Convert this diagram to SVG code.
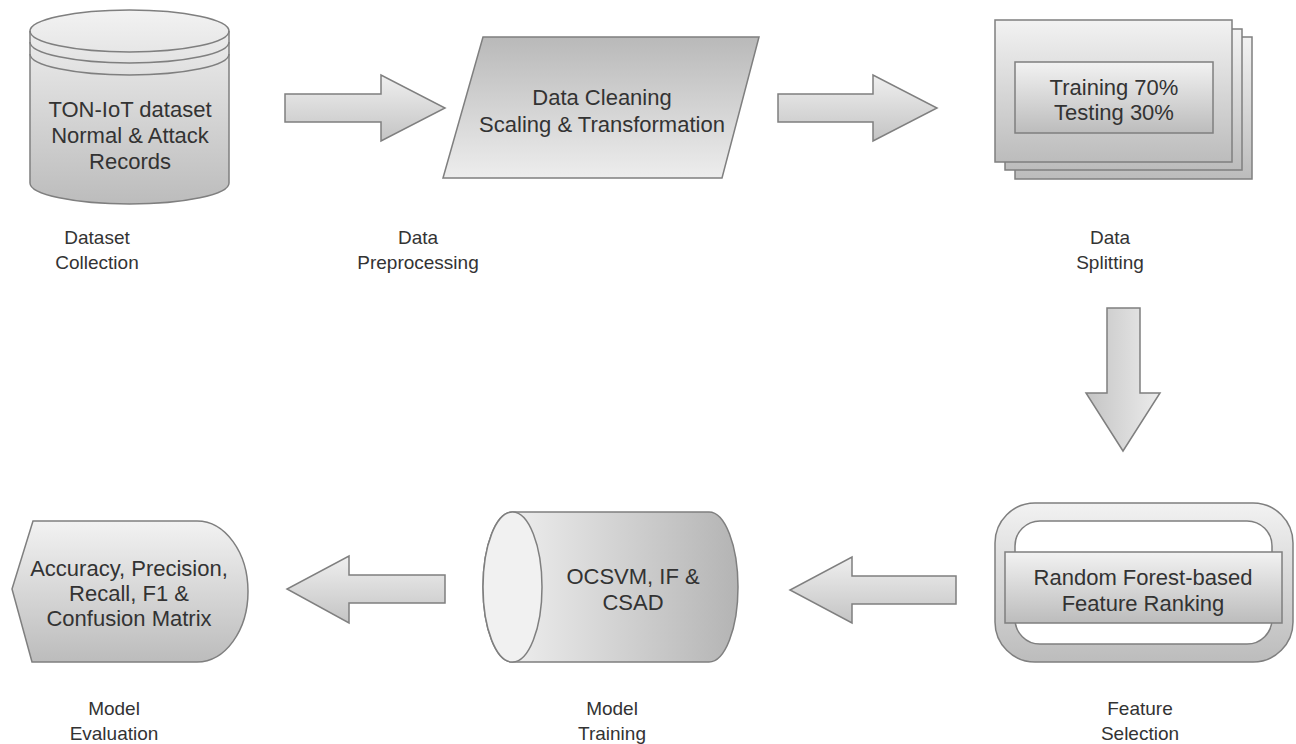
<svg xmlns="http://www.w3.org/2000/svg" width="1296" height="744" viewBox="0 0 1296 744">
<defs>
<linearGradient id="gv" x1="0" y1="0" x2="0" y2="1"><stop offset="0" stop-color="#f2f2f2"/><stop offset="1" stop-color="#bcbcbc"/></linearGradient>
<linearGradient id="gvr" x1="0" y1="0" x2="0" y2="1"><stop offset="0" stop-color="#b9b9b9"/><stop offset="1" stop-color="#ededed"/></linearGradient>
<linearGradient id="gh" x1="0" y1="0" x2="1" y2="0"><stop offset="0" stop-color="#f4f4f4"/><stop offset="1" stop-color="#b4b4b4"/></linearGradient>
<linearGradient id="ga" x1="0" y1="0" x2="0" y2="1"><stop offset="0" stop-color="#efefef"/><stop offset="1" stop-color="#c4c4c4"/></linearGradient>
<linearGradient id="gd" x1="0" y1="0" x2="1" y2="0"><stop offset="0" stop-color="#c4c4c4"/><stop offset="1" stop-color="#ececec"/></linearGradient>
</defs>
<style>
.s{stroke:#7f7f7f;stroke-width:1.5;}
.t{font-family:"Liberation Sans",Arial,sans-serif;font-size:22px;fill:#333;text-anchor:middle;}
.l{font-family:"Liberation Sans",Arial,sans-serif;font-size:19px;fill:#333;text-anchor:middle;}
</style>
<rect width="1296" height="744" fill="#fff"/>
<g id="connectors">
<polygon class="s" fill="url(#ga)" points="285,94 381,94 381,75 445,108 381,141 381,122 285,122"/>
<polygon class="s" fill="url(#ga)" points="778,94 873,94 873,75 937,108 873,141 873,122 778,122"/>
<polygon class="s" fill="url(#gd)" points="1107,308 1140,308 1140,393 1160,393 1123,451 1086,393 1107,393"/>
<polygon class="s" fill="url(#ga)" points="956,576 852,576 852,557 790,590 852,623 852,604 956,604"/>
<polygon class="s" fill="url(#ga)" points="445,575 349,575 349,556 287,589 349,623 349,603 445,603"/>
</g>
<g id="dataset">
<path class="s" fill="url(#gv)" d="M30,31 A99.5,21 0 0,1 229,31 L229,183 A99.5,21 0 0,1 30,183 Z"/>
<path class="s" fill="none" d="M30,31 A99.5,21 0 0,0 229,31 M30,42 A99.5,21 0 0,0 229,42 M30,54 A99.5,21 0 0,0 229,54"/>
<text class="t" x="130" y="117">TON-IoT dataset</text>
<text class="t" x="130" y="143">Normal &amp; Attack</text>
<text class="t" x="130" y="169">Records</text>
<text class="l" x="97" y="244">Dataset</text>
<text class="l" x="97" y="269">Collection</text>
</g>
<g id="preprocessing">
<polygon class="s" fill="url(#gvr)" points="483,37 759,37 722,178 443,178"/>
<text class="t" x="602" y="105">Data Cleaning</text>
<text class="t" x="602" y="132">Scaling &amp; Transformation</text>
<text class="l" x="418" y="244">Data</text>
<text class="l" x="418" y="269">Preprocessing</text>
</g>
<g id="splitting">
<rect class="s" fill="url(#gv)" x="1015" y="37" width="237" height="142"/>
<rect class="s" fill="url(#gv)" x="1005" y="29" width="237" height="141"/>
<rect class="s" fill="url(#gv)" x="995" y="20" width="237" height="142"/>
<rect class="s" fill="url(#gv)" x="1015" y="62" width="198" height="71"/>
<text class="t" x="1114" y="95">Training 70%</text>
<text class="t" x="1114" y="120">Testing 30%</text>
<text class="l" x="1110" y="244">Data</text>
<text class="l" x="1110" y="269">Splitting</text>
</g>
<g id="feature">
<rect class="s" fill="url(#gv)" x="995" y="503" width="298" height="159" rx="40"/>
<rect class="s" fill="#fff" x="1015" y="521" width="257" height="123" rx="25"/>
<rect class="s" fill="url(#gv)" x="1005" y="552" width="277" height="71"/>
<text class="t" x="1143" y="585">Random Forest-based</text>
<text class="t" x="1143" y="611">Feature Ranking</text>
<text class="l" x="1140" y="715">Feature</text>
<text class="l" x="1140" y="740">Selection</text>
</g>
<g id="training">
<path class="s" fill="url(#gh)" d="M512,512 L709,512 A29,75 0 0,1 709,662 L512,662 A29,75 0 0,1 512,512 Z"/>
<ellipse class="s" fill="#f1f1f1" cx="512.5" cy="587" rx="29.5" ry="75"/>
<text class="t" x="633" y="584">OCSVM, IF &amp;</text>
<text class="t" x="633" y="610">CSAD</text>
<text class="l" x="612" y="715">Model</text>
<text class="l" x="612" y="740">Training</text>
</g>
<g id="evaluation">
<path class="s" fill="url(#gv)" d="M33,521 L197,521 A51,70.5 0 0,1 197,662 L32,662 L12,589 Z"/>
<text class="t" x="129" y="576">Accuracy, Precision,</text>
<text class="t" x="129" y="601">Recall, F1 &amp;</text>
<text class="t" x="129" y="626">Confusion Matrix</text>
<text class="l" x="114" y="715">Model</text>
<text class="l" x="114" y="740">Evaluation</text>
</g>
</svg>
